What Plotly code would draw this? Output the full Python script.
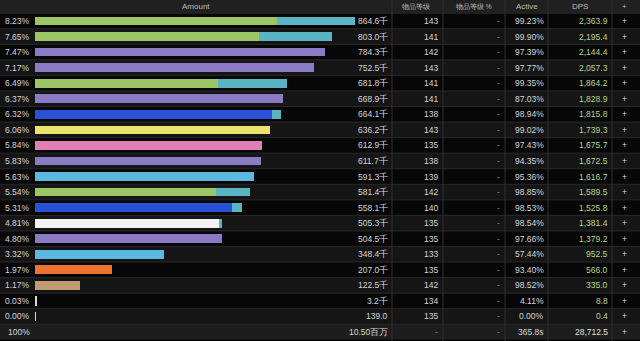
import plotly.graph_objects as go

# ---- data -------------------------------------------------------------
pct_labels = ["8.23%", "7.65%", "7.47%", "7.17%", "6.49%", "6.37%", "6.32%", "6.06%",
              "5.84%", "5.83%", "5.63%", "5.54%", "5.31%", "4.81%", "4.80%", "3.32%",
              "1.97%", "1.17%", "0.03%", "0.00%"]
# total damage per player, in thousands
amounts = [864.6, 803.0, 784.3, 752.5, 681.8, 668.9, 664.1, 636.2, 612.9, 611.7,
           591.3, 581.4, 558.1, 505.3, 504.5, 348.4, 207.0, 122.5, 3.2, 0.139]
# portion done by the player itself (rest is pets / guardians)
own_damage = [653.9, 605.2, 784.3, 752.5, 494.4, 668.9, 640.3, 636.2, 612.9, 611.7,
              591.3, 489.0, 532.3, 497.0, 504.5, 348.4, 207.0, 122.5, 3.2, 0.139]
amount_labels = ["864.6千", "803.0千", "784.3千", "752.5千", "681.8千", "668.9千", "664.1千",
                 "636.2千", "612.9千", "611.7千", "591.3千", "581.4千", "558.1千", "505.3千",
                 "504.5千", "348.4千", "207.0千", "122.5千", "3.2千", "139.0"]
bar_colors = ["#9cc566", "#9cc566", "#8b7bc4", "#8b7bc4", "#9cc566", "#8b7bc4", "#2a52d6",
              "#ece36c", "#e07fb2", "#8b7bc4", "#5bb9e0", "#9cc566", "#2a52d6", "#f2f2f2",
              "#8b7bc4", "#5bb9e0", "#ee7232", "#c09a72", "#d8d8d8", "#d8d8d8"]
pet_color = "#5ab4c4"
item_level = ["143", "141", "142", "143", "141", "141", "138", "143", "135", "138",
              "139", "142", "140", "135", "135", "133", "135", "142", "134", "135"]
active = ["99.23%", "99.90%", "97.39%", "97.77%", "99.35%", "87.03%", "98.94%", "99.02%",
          "97.43%", "94.35%", "95.36%", "98.85%", "98.53%", "98.54%", "97.66%", "57.44%",
          "93.40%", "98.52%", "4.11%", "0.00%"]
dps = ["2,363.9", "2,195.4", "2,144.4", "2,057.3", "1,864.2", "1,828.9", "1,815.8",
       "1,739.3", "1,675.7", "1,672.5", "1,616.7", "1,589.5", "1,525.8", "1,381.4",
       "1,379.2", "952.5", "566.0", "335.0", "8.8", "0.4"]
headers = ["Amount", "物品等级", "物品等级 %", "Active", "DPS", "+"]
totals = {"pct": "100%", "amount": "10.50百万", "ilvl": "-", "ilvl_pct": "-",
          "active": "365.8s", "dps": "28,712.5"}

# ---- layout helpers ---------------------------------------------------
W, H = 640, 341
n = len(amounts)
rows = list(range(n))
pet_damage = [a - o for a, o in zip(amounts, own_damage)]


def px(x):
    return x / W


FONT = "Liberation Sans, Arial, sans-serif"
TXT = "#d6d6d6"
fig = go.Figure()

# player bars (own damage + pets stacked); near-zero bars get an outline so they stay visible
tiny = [a < 10 for a in amounts]
fig.add_trace(go.Bar(
    y=rows, x=own_damage, orientation="h", width=0.56,
    marker=dict(color=bar_colors,
                line=dict(color=[c if t else "rgba(0,0,0,0)" for c, t in zip(bar_colors, tiny)],
                          width=[1 if t else 0 for t in tiny])),
    hoverinfo="skip", showlegend=False))
fig.add_trace(go.Bar(
    y=rows, x=pet_damage, orientation="h", width=0.56,
    marker=dict(color=pet_color, line=dict(width=0)),
    hoverinfo="skip", showlegend=False))

shapes = []
# header background
shapes.append(dict(type="rect", xref="paper", yref="y", x0=0, x1=1, y0=-1.5, y1=-0.5,
                   fillcolor="#202020", line_width=0, layer="below"))
# row backgrounds, alternating
for r in range(n + 1):
    if r == n:
        col = "#1d1d1d"
    else:
        col = "#070707" if r % 2 == 0 else "#151515"
    shapes.append(dict(type="rect", xref="paper", yref="y", x0=0, x1=1,
                       y0=r - 0.5, y1=r + 0.5, fillcolor=col, line_width=0, layer="below"))
    shapes.append(dict(type="line", xref="paper", yref="y", x0=0, x1=1,
                       y0=r - 0.5, y1=r - 0.5, line=dict(color="#2a2a2a", width=1),
                       layer="below"))
# column dividers
for xd in [392, 443, 505, 548, 612]:
    shapes.append(dict(type="line", xref="paper", yref="paper", x0=px(xd), x1=px(xd),
                       y0=0, y1=1, line=dict(color="#303030", width=1), layer="below"))

ann = []


def label(x, r, text, anchor="right", color=TXT, size=8.5):
    ann.append(dict(x=px(x), y=r, xref="paper", yref="y", text=text, showarrow=False,
                    xanchor=anchor, yanchor="middle", font=dict(family=FONT, size=size, color=color)))


# header labels
hdr_x = [196, 416, 474, 527, 580, 624]
for hx, h in zip(hdr_x, headers):
    size = 6.5 if any(ord(ch) > 255 for ch in h) else 8
    label(hx, -0.93, h, anchor="center", color="#bdbdbd", size=size)

for r in rows:
    label(32, r, pct_labels[r])
    label(390, r, amount_labels[r])
    label(440, r, item_level[r])
    label(502, r, "-", color="#8a8a8a")
    label(546, r, active[r])
    label(610, r, dps[r], color="#b6d68c")
    label(624, r, "+", anchor="center", color="#dcdcdc")

# totals row
label(32, n, totals["pct"])
label(390, n, totals["amount"])
label(440, n, totals["ilvl"], color="#8a8a8a")
label(502, n, totals["ilvl_pct"], color="#8a8a8a")
label(546, n, totals["active"])
label(610, n, totals["dps"], color="#e0e0e0")
label(624, n, "+", anchor="center", color="#dcdcdc")

top_px, row_h = 21.0, 15.55
fig.update_layout(
    width=W, height=H, margin=dict(l=0, r=0, t=0, b=0),
    paper_bgcolor="#000000", plot_bgcolor="rgba(0,0,0,0)",
    barmode="stack", bargap=0.1,
    xaxis=dict(domain=[px(35), px(355)], range=[0, max(amounts)], visible=False, fixedrange=True),
    yaxis=dict(range=[(H - top_px) / row_h, -top_px / row_h], visible=False, fixedrange=True),
    shapes=shapes, annotations=ann, showlegend=False,
)

fig.write_html("out.html")
